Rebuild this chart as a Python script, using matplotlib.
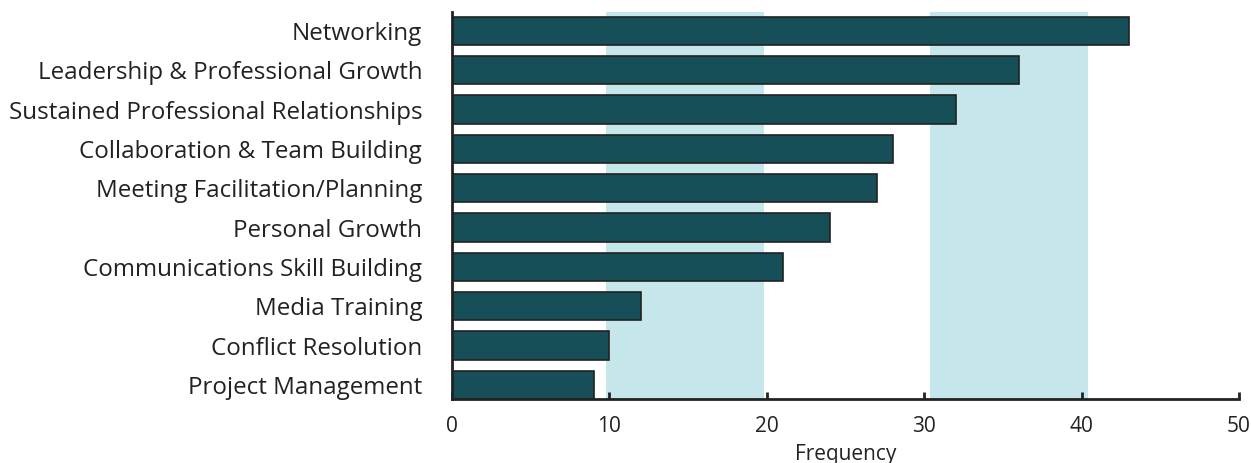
import matplotlib.pyplot as plt

categories = [
    "Networking",
    "Leadership & Professional Growth",
    "Sustained Professional Relationships",
    "Collaboration & Team Building",
    "Meeting Facilitation/Planning",
    "Personal Growth",
    "Communications Skill Building",
    "Media Training",
    "Conflict Resolution",
    "Project Management",
]
frequency = [43, 36, 32, 28, 27, 24, 21, 12, 10, 9]
bands = [(9.8, 19.8), (30.4, 40.4)]
xticks = [0, 10, 20, 30, 40, 50]

plt.rcParams['font.family'] = ['Open Sans', 'DejaVu Sans']

fig = plt.figure(figsize=(12.51, 4.63), dpi=100)
ax = fig.add_axes([0.3613, 0.138, 0.6291, 0.836])

for lo, hi in bands:
    ax.axvspan(lo, hi, color="#c5e6ea", zorder=0, lw=0)

ypos = list(range(len(categories)))
ax.barh(ypos, frequency, height=0.72, color="#164f57", edgecolor="#222222",
        linewidth=1.2, zorder=2)

ax.set_ylim(len(categories) - 1 + 0.36, -0.48)
ax.set_xlim(0, 50)
ax.set_yticks(ypos)
ax.set_yticklabels(categories, fontsize=17.4, color="#222222")
ax.tick_params(axis='y', length=0, pad=21.5)
ax.set_xticks(xticks)
ax.tick_params(axis='x', direction='in', length=5, width=2, color="#222222",
               labelsize=15, labelcolor="#222222", pad=12)
ax.set_xlabel("Frequency", fontsize=15, color="#222222", labelpad=5)

for side in ["top", "right"]:
    ax.spines[side].set_visible(False)
for side in ["left", "bottom"]:
    ax.spines[side].set_linewidth(2)
    ax.spines[side].set_color("#222222")

fig.savefig("out.png", dpi=100)
